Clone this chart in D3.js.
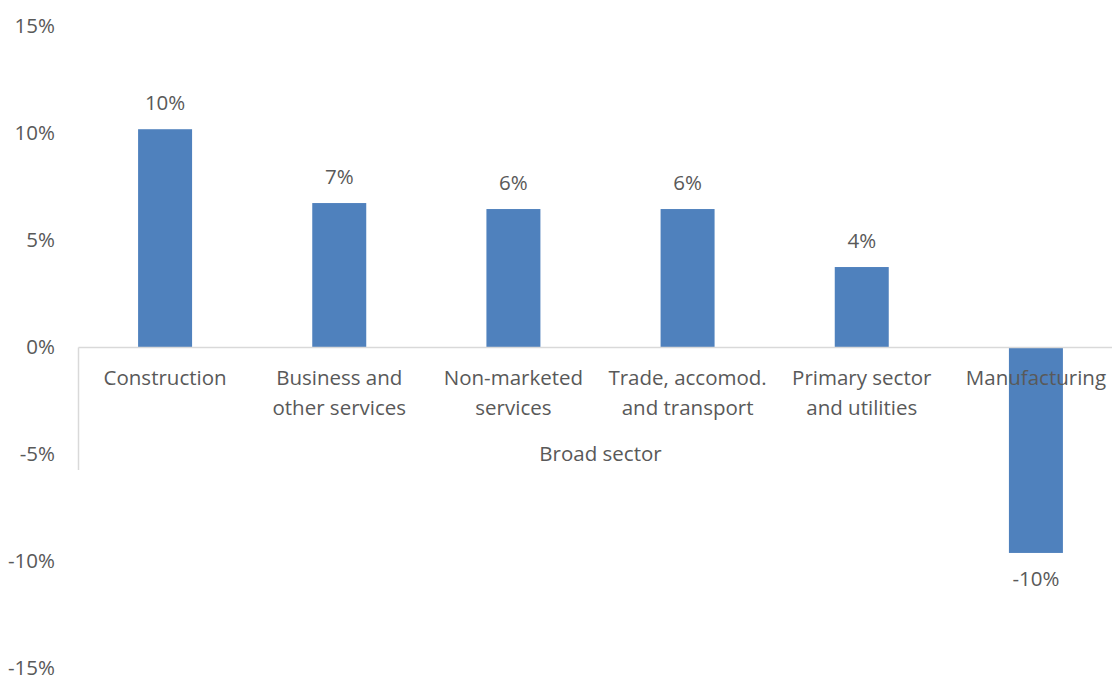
<!doctype html>
<html lang='en'>
<head>
<meta charset="utf-8">
<script src="https://d3js.org/d3.v7.min.js"></script>
<title>Broad sector</title>
<style>
  body { margin: 0; background: #fff; }
  svg text { font-family: "Open Sans", "Noto Sans", sans-serif; fill: #595959; }
</style>
</head>
<body>
<div id='chart'></div>
<script>
const sectors = [
  ['Construction'],
  ['Business and', 'other services'],
  ['Non-marketed', 'services'],
  ['Trade, accomod.', 'and transport'],
  ['Primary sector', 'and utilities'],
  ['Manufacturing']
];
const values = [10.2, 6.75, 6.47, 6.47, 3.76, -9.6];
const yTicks = [-15, -10, -5, 0, 5, 10, 15];
const axisTitle = 'Broad sector';

const width = 1112, height = 677;
const fontSize = 20.5;

const pct = d => String(Math.round(d)).replace('\u2212', '-') + '%';

const svg = d3.select('#chart').append('svg')
  .attr('width', width)
  .attr('height', height);

const x = d3.scaleBand()
  .domain(d3.range(sectors.length))
  .range([78, 1123])
  .paddingInner(0.69)
  .paddingOuter(0.345);

const y = d3.scaleLinear()
  .domain([-15, 15])
  .range([668.5, 26.5]);

// y tick labels (no axis line, no gridlines)
svg.append('g').selectAll('text')
  .data(yTicks)
  .enter().append('text')
  .attr('x', 55)
  .attr('y', d => y(d))
  .attr('dy', '0.33em')
  .attr('text-anchor', 'end')
  .style('font-size', fontSize + 'px')
  .text(pct);

// bars
svg.append('g').selectAll('rect')
  .data(values)
  .enter().append('rect')
  .attr('x', (d, i) => x(i))
  .attr('width', x.bandwidth())
  .attr('y', d => y(Math.max(0, d)))
  .attr('height', d => Math.abs(y(d) - y(0)))
  .attr('fill', '#4f81bd');

// category axis line at zero + left edge
svg.append('line')
  .attr('x1', 78.5).attr('x2', width)
  .attr('y1', y(0)).attr('y2', y(0))
  .attr('stroke', '#d9d9d9').attr('stroke-width', 1.5);
svg.append('line')
  .attr('x1', 78.5).attr('x2', 78.5)
  .attr('y1', y(0)).attr('y2', 470)
  .attr('stroke', '#d9d9d9').attr('stroke-width', 1.5);

// category labels
const cat = svg.append('g').selectAll('text')
  .data(sectors)
  .enter().append('text')
  .attr('x', (d, i) => x(i) + x.bandwidth() / 2)
  .attr('y', 378)
  .attr('text-anchor', 'middle')
  .style('font-size', fontSize + 'px');
cat.selectAll('tspan')
  .data(d => d)
  .enter().append('tspan')
  .attr('x', function () { return this.parentNode.getAttribute('x'); })
  .attr('dy', (d, i) => i === 0 ? '0.35em' : '30px')
  .text(d => d);

// axis title
svg.append('text')
  .attr('x', (x.range()[0] + x.range()[1]) / 2)
  .attr('y', 454)
  .attr('dy', '0.35em')
  .attr('text-anchor', 'middle')
  .style('font-size', fontSize + 'px')
  .text(axisTitle);

// data labels
svg.append('g').selectAll('text')
  .data(values)
  .enter().append('text')
  .attr('x', (d, i) => x(i) + x.bandwidth() / 2)
  .attr('y', d => d >= 0 ? y(d) - 26 : y(d) + 26)
  .attr('dy', '0.35em')
  .attr('text-anchor', 'middle')
  .style('font-size', fontSize + 'px')
  .text(pct);
</script>
</body>
</html>
